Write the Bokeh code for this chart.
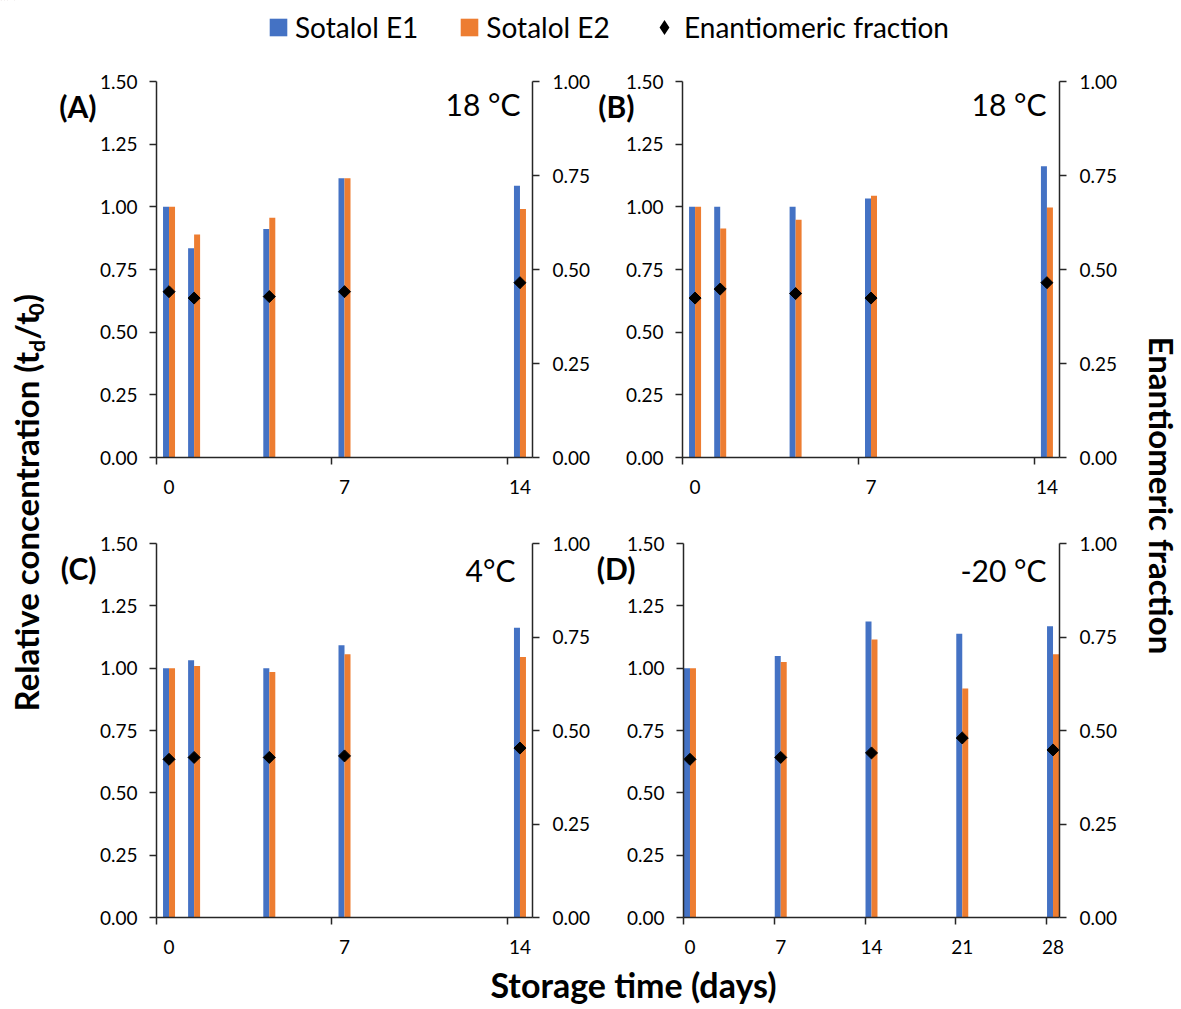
import math
from bokeh.plotting import figure
from bokeh.models import (Range1d, LinearAxis, FixedTicker, NumeralTickFormatter,
                          Label, Legend, LegendItem, ColumnDataSource)
from bokeh.layouts import row, column
from bokeh.transform import dodge
from bokeh.core.properties import value
from bokeh.embed import file_html
from bokeh.resources import INLINE

# ---------------- data ----------------
days_short = [0, 1, 4, 7, 14]
days_long = [0, 7, 14, 21, 28]

a_e1 = [1.00, 0.835, 0.912, 1.114, 1.084]
a_e2 = [1.00, 0.890, 0.956, 1.114, 0.991]
a_ef = [0.441, 0.424, 0.428, 0.441, 0.465]

b_e1 = [1.00, 1.00, 1.00, 1.033, 1.162]
b_e2 = [1.00, 0.914, 0.948, 1.044, 0.997]
b_ef = [0.424, 0.448, 0.436, 0.424, 0.465]

c_e1 = [1.00, 1.032, 1.00, 1.092, 1.162]
c_e2 = [1.00, 1.009, 0.985, 1.056, 1.045]
c_ef = [0.423, 0.428, 0.428, 0.432, 0.453]

d_e1 = [1.00, 1.049, 1.187, 1.138, 1.168]
d_e2 = [1.00, 1.025, 1.115, 0.918, 1.056]
d_ef = [0.423, 0.428, 0.440, 0.480, 0.448]

ticks_short = [0, 7, 14]
ticks_long = [0, 7, 14, 21, 28]
conc_ticks = [0, 0.25, 0.5, 0.75, 1.0, 1.25, 1.5]
ef_ticks = [0, 0.25, 0.5, 0.75, 1.0]

series_names = ["Sotalol E1", "Sotalol E2", "Enantiomeric fraction"]
panel_labels = ["(A)", "(B)", "(C)", "(D)"]
temps = ["18 °C", "18 °C", "4°C", "-20 °C"]

# ---------------- style ----------------
BLUE = "#4472C4"
ORANGE = "#ED7D31"
AX = "#262626"
FONT = "Lato"
TICK_FS = "19px"
BAR_PX = 6
TITLE_FS = "33px"


def style_axis(ax):
    ax.axis_line_color = AX
    ax.axis_line_width = 1.5
    ax.major_tick_line_color = AX
    ax.major_tick_line_width = 1.5
    ax.minor_tick_line_color = AX
    ax.minor_tick_line_width = 1.5
    ax.major_label_text_font = FONT
    ax.major_label_text_font_size = TICK_FS
    ax.major_label_text_color = "black"
    ax.major_tick_in = 0
    ax.minor_tick_in = 0


def panel(days, e1, e2, ef, xticks, xmax, width, height, bl, br, bt, bb,
          plabel, lab_standoff, temp, temp_dx, temp_dy):
    p = figure(width=width, height=height,
               x_range=Range1d(-0.5, xmax + 0.5), y_range=Range1d(0, 1.5),
               output_backend="svg", toolbar_location=None,
               x_axis_location=None, y_axis_location=None,
               min_border_left=bl, min_border_right=br,
               min_border_top=bt, min_border_bottom=bb)
    frame_w = width - bl - br
    frame_h = height - bt - bb
    p.extra_y_ranges = {"ef": Range1d(0, 1), "lab": Range1d(0, frame_h)}
    p.outline_line_color = None
    p.background_fill_color = "white"
    p.border_fill_color = "white"
    for g in p.grid:
        g.visible = False

    ppx = frame_w / (xmax + 1.0)
    ppy = frame_h / 1.5
    w = BAR_PX / ppx

    src = ColumnDataSource(dict(day=days, e1=e1, e2=e2, ef=ef))
    p.vbar(x=dodge("day", -w / 2, range=p.x_range), top="e1", bottom=0, width=w,
           fill_color=BLUE, line_color=None, source=src)
    p.vbar(x=dodge("day", w / 2, range=p.x_range), top="e2", bottom=0, width=w,
           fill_color=ORANGE, line_color=None, source=src)
    p.scatter(x="day", y="ef", marker="square", size=8.5, angle=math.pi / 4,
              fill_color="black", line_color="black", y_range_name="ef", source=src)

    yl = LinearAxis(ticker=FixedTicker(ticks=conc_ticks),
                    formatter=NumeralTickFormatter(format="0.00"))
    style_axis(yl)
    yl.major_tick_out = 7
    yl.minor_tick_out = 0
    yl.major_label_standoff = 12
    p.add_layout(yl, "left")

    # panel letter, drawn as the single label of an outer, line-less left axis
    lab_pos = frame_h - 24
    la = LinearAxis(y_range_name="lab", ticker=FixedTicker(ticks=[lab_pos]),
                    major_label_overrides={lab_pos: plabel})
    la.axis_line_color = None
    la.major_tick_line_color = None
    la.minor_tick_line_color = None
    la.major_tick_out = 0
    la.major_tick_in = 0
    la.minor_tick_out = 0
    la.minor_tick_in = 0
    la.major_label_standoff = lab_standoff
    la.major_label_text_font = FONT
    la.major_label_text_font_style = "bold"
    la.major_label_text_font_size = "30px"
    la.major_label_text_color = "black"
    p.add_layout(la, "left")

    yr = LinearAxis(y_range_name="ef", ticker=FixedTicker(ticks=ef_ticks),
                    formatter=NumeralTickFormatter(format="0.00"))
    style_axis(yr)
    yr.major_tick_out = 7
    yr.minor_tick_out = 0
    yr.major_label_standoff = 13
    p.add_layout(yr, "right")

    xa = LinearAxis(ticker=FixedTicker(ticks=xticks,
                                       minor_ticks=[t - 0.5 for t in xticks]))
    style_axis(xa)
    xa.major_tick_out = 0
    xa.minor_tick_out = 7
    xa.major_label_standoff = 15
    p.add_layout(xa, "below")

    p.add_layout(Label(x=xmax + 0.5 - temp_dx / ppx, y=1.5 - temp_dy / ppy, text=temp,
                       text_font=FONT, text_font_size="30px",
                       text_align="right", text_baseline="middle", text_color="black"))
    return p


pA = panel(days_short, a_e1, a_e2, a_ef, ticks_short, 14, 538, 438, 101, 61, 19, 43,
           panel_labels[0], 0, temps[0], 12, 22)
pB = panel(days_short, b_e1, b_e2, b_ef, ticks_short, 14, 538, 438, 89, 72, 19, 43,
           panel_labels[1], -12, temps[1], 13, 22)
pC = panel(days_short, c_e1, c_e2, c_ef, ticks_short, 14, 538, 458, 101, 61, 43, 41,
           panel_labels[2], 0, temps[2], 17, 26)
pD = panel(days_long, d_e1, d_e2, d_ef, ticks_long, 28, 538, 458, 89, 72, 43, 41,
           panel_labels[3], -12, temps[3], 13, 26)


def blank(width, height, bottom_border=0, y_range=None):
    f = figure(width=width, height=height, x_range=Range1d(0, width),
               y_range=y_range if y_range is not None else Range1d(0, height),
               output_backend="svg",
               toolbar_location=None, x_axis_location=None, y_axis_location=None,
               min_border_left=0, min_border_right=0,
               min_border_top=0, min_border_bottom=bottom_border)
    f.outline_line_color = None
    for g in f.grid:
        g.visible = False
    return f


# ---------- legend strip ----------
# the legend's renderers hold panel A's values but sit outside the strip's view
top = blank(1181, 62, bottom_border=8, y_range=Range1d(-3, -2))
r1 = top.vbar(x=days_short, top=a_e1, bottom=0, width=0.2, fill_color=BLUE, line_color=None)
r2 = top.vbar(x=days_short, top=a_e2, bottom=0, width=0.2, fill_color=ORANGE, line_color=None)
r3 = top.scatter(x=days_short, y=a_ef, marker="diamond", size=11,
                 fill_color="black", line_color="black", line_width=2,
                 line_join="miter")
leg_common = dict(orientation="horizontal", location="left", label_standoff=6,
                  spacing=40, padding=0, border_line_color=None,
                  background_fill_alpha=0, inactive_fill_alpha=0,
                  label_text_font=FONT, label_text_font_size="28px",
                  label_text_color="black")
leg1 = Legend(items=[LegendItem(label=series_names[0], renderers=[r1]),
                     LegendItem(label=series_names[1], renderers=[r2])],
              glyph_width=22, glyph_height=22, margin=267, **leg_common)
leg2 = Legend(items=[LegendItem(label=series_names[2], renderers=[r3])],
              glyph_width=28, glyph_height=28, margin=650, **leg_common)
top.add_layout(leg1, "center")
top.add_layout(leg2, "center")

# ---------- left title ----------
H_MID = 896
left = blank(55, H_MID)
cy = H_MID - 439
P = cy - 213 + 366 - 3.5
mid_x = 25
sub_x = 35.5
common = dict(angle=math.pi / 2, text_baseline="middle", text_font=value(FONT),
              text_font_style="bold", text_color="black")
left.text(x=[mid_x], y=[P], text=["Relative concentration (t"], text_align="right",
          text_font_size=TITLE_FS, **common)
left.text(x=[sub_x], y=[P], text=["d"], text_align="left", text_font_size="21px", **common)
left.text(x=[mid_x], y=[P + 12.5], text=["/t"], text_align="left",
          text_font_size=TITLE_FS, **common)
left.text(x=[sub_x], y=[P + 36.5], text=["0"], text_align="left", text_font_size="21px",
          **common)
left.text(x=[mid_x], y=[P + 49], text=[")"], text_align="left",
          text_font_size=TITLE_FS, **common)

# ---------- right title ----------
right = blank(50, H_MID)
right.text(x=[30], y=[H_MID - 433], text=["Enantiomeric fraction"], angle=-math.pi / 2,
           text_align="center", text_baseline="middle", text_font=value(FONT),
           text_font_style="bold", text_font_size=TITLE_FS, text_color="black")

# ---------- bottom title ----------
bottom = blank(1181, 51)
bottom.text(x=[633], y=[25], text=["Storage time (days)"],
            text_align="center", text_baseline="middle", text_font=value(FONT),
            text_font_style="bold", text_font_size="34px", text_color="black")

grid = column(row(pA, pB), row(pC, pD))
layout = column(top, row(left, grid, right), bottom)

open("out.html", "w").write(file_html(layout, INLINE))
